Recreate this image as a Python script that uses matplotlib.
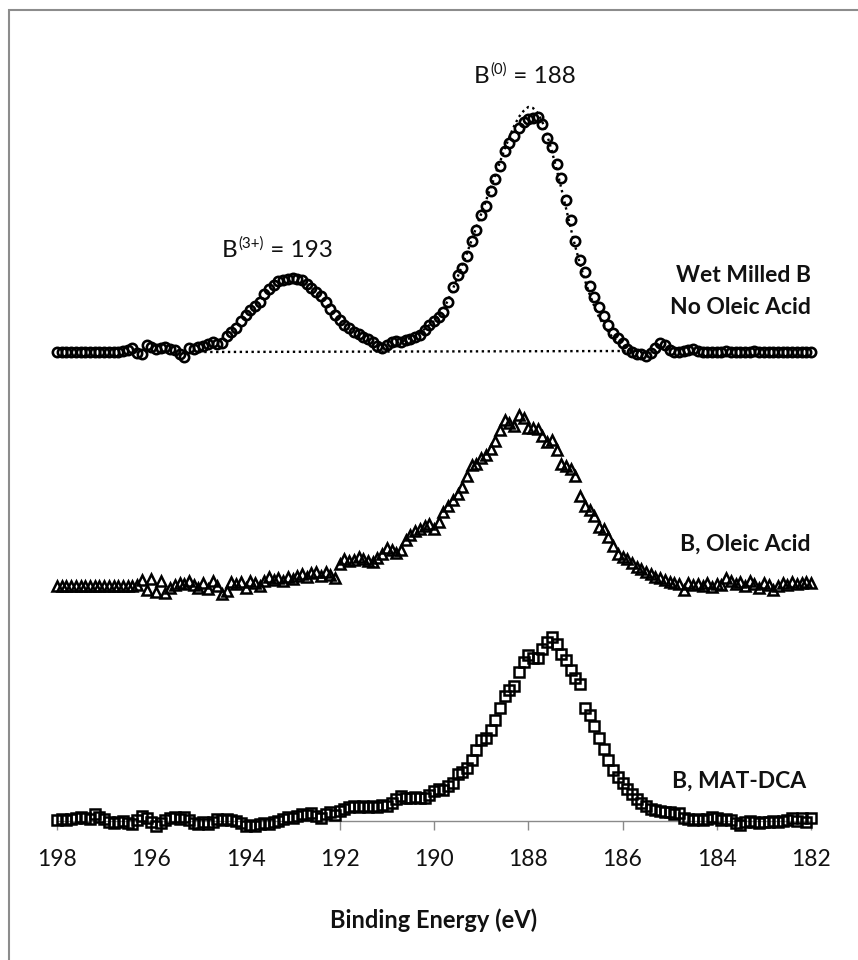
import numpy as np
import matplotlib
matplotlib.use("Agg")
import matplotlib.pyplot as plt
from matplotlib.patches import Rectangle

plt.rcParams['font.family'] = ['Lato', 'DejaVu Sans']
plt.rcParams['mathtext.default'] = 'regular'

# Binding energy grid (eV), 198 -> 182 in 0.1 eV steps
E_START, E_STOP, N_PTS = 198.0, 182.0, 161
energy = np.linspace(E_START, E_STOP, N_PTS)

# Wet milled B, no oleic acid (circles), intensity above own baseline
wet_milled = [
    0, 0, 0, 0, 0, 0, 0, 0, 0, 0,
    0, 0, 0, 0, 1, 2, 4, -1, -2, 7,
    5, 3, 4, 5, 3, 2, -2, -5, 4, 3,
    5, 6, 8, 10, 8, 9, 16, 20, 24, 31,
    37, 42, 46, 50, 58, 63, 67, 71, 72, 73,
    74, 73, 72, 68, 64, 60, 56, 50, 43, 37,
    32, 27, 24, 20, 18, 15, 13, 10, 6, 4,
    7, 10, 11, 10, 12, 13, 15, 17, 22, 27,
    31, 35, 40, 50, 65, 77, 84, 96, 111, 122,
    137, 146, 161, 173, 186, 201, 209, 216, 224, 230,
    233, 234, 235, 228, 214, 205, 188, 174, 152, 132,
    111, 92, 80, 66, 55, 45, 36, 27, 19, 14,
    9, 3, 0, -2, -2, -4, -1, 4, 9, 7,
    2, 0, 0, 1, 2, 3, 1, 0, 0, 0,
    0, 0, 1, 0, 0, 0, 0, 0, 1, 0,
    0, 0, 0, 0, 0, 0, 0, 0, 0, 0, 0,
]

# B, oleic acid (triangles)
oleic = [
    0, 0, 0, 0, 0, 0, 0, 0, 0, 0,
    0, 0, 0, 0, 0, 0, 0, 1, 6, -4,
    7, -6, 5, -7, -2, 1, 3, 2, 5, 1,
    -2, 3, -3, 5, 0, -8, -5, 4, 2, 4,
    -2, 5, 3, 0, 5, 9, 6, 8, 5, 9,
    7, 10, 12, 9, 13, 14, 10, 14, 11, 8,
    22, 27, 25, 26, 29, 27, 25, 24, 28, 32,
    38, 36, 33, 36, 46, 51, 55, 57, 60, 62,
    57, 64, 74, 80, 86, 92, 99, 110, 121, 122,
    128, 131, 137, 145, 156, 166, 163, 160, 171, 168,
    158, 158, 157, 150, 144, 146, 136, 122, 120, 117,
    110, 90, 80, 76, 70, 59, 57, 49, 40, 32,
    29, 27, 23, 19, 17, 14, 12, 9, 8, 6,
    4, 3, 2, -4, 3, 1, 2, 0, 3, -1,
    2, 1, 8, 5, 2, 4, 0, 5, 2, -2,
    3, 1, -4, 0, 3, 1, 4, 2, 3, 4, 3,
]

# B, MAT-DCA (squares)
mat_dca = [
    0, 1, 0, 1, 2, 3, 2, 1, 6, 3,
    1, -2, -3, -2, -1, -3, -4, 0, 4, 2,
    -2, -6, -3, 0, 2, 3, 1, 3, 0, -3,
    -4, -2, -4, -2, 1, 0, 1, 0, -1, -3,
    -6, -5, -6, -4, -3, -4, -2, -1, 1, 3,
    2, 4, 6, 5, 7, 4, 2, 6, 8, 5,
    9, 11, 13, 14, 13, 14, 13, 14, 13, 15,
    14, 17, 21, 24, 22, 22, 23, 22, 22, 25,
    29, 31, 30, 34, 37, 46, 48, 52, 60, 70,
    80, 82, 90, 100, 112, 124, 130, 134, 148, 158,
    165, 162, 162, 171, 178, 183, 176, 166, 160, 150,
    142, 136, 112, 105, 94, 82, 71, 60, 50, 43,
    37, 31, 26, 21, 17, 14, 11, 10, 9, 8,
    8, 6, 7, 2, 1, 0, 1, 0, 1, 3,
    2, 0, 1, 0, -3, -5, -2, -1, -2, -3,
    -2, -2, -1, -2, -1, 0, 2, -1, 2, -2, 2,
]

# Fitted envelope around the B(0) peak (dotted), 191.0 -> 185.6 eV
fit_energy = np.linspace(191.0, 185.6, 55)
fit_b0 = [
    3, 6, 9, 10, 12, 14, 16, 19, 23, 27,
    31, 36, 43, 52, 63, 75, 87, 99, 112, 125,
    138, 151, 164, 177, 190, 203, 215, 226, 235, 241,
    245, 244, 239, 230, 217, 201, 183, 164, 144, 124,
    105, 88, 72, 58, 46, 35, 27, 20, 14, 10,
    6, 4, 2, 1, 0,
]
# Fitted background (dotted)
bg_energy = [195.0, 185.8]
bg_level = [0, 1]

# vertical offsets for stacking
offsets = {"wet": 469, "oleic": 235, "mat": 1}

series_labels = ["Wet Milled B", "No Oleic Acid", "B, Oleic Acid", "B, MAT-DCA"]
xticks = [198, 196, 194, 192, 190, 188, 186, 184, 182]
xlabel = "Binding Energy (eV)"

W, H = 858, 960
fig = plt.figure(figsize=(W / 100, H / 100), dpi=100)
ax = fig.add_axes([57 / W, 1 - 821 / H, (811 - 57) / W, (821 - 20) / H])

mk = dict(linestyle="none", markerfacecolor="none", markeredgecolor="black",
          clip_on=False)
dot = dict(color="black", linewidth=1.7, linestyle=(0, (1, 1.5)))

ax.plot(bg_energy, np.array(bg_level) + offsets["wet"], **dot)
ax.plot(fit_energy, np.array(fit_b0) + offsets["wet"], **dot)
ax.plot(energy, np.array(wet_milled) + offsets["wet"], marker="o",
        markersize=6.7, markeredgewidth=1.9, **mk)
ax.plot(energy, np.array(oleic) + offsets["oleic"], marker="^",
        markersize=7.0, markeredgewidth=1.8, **mk)
ax.plot(energy, np.array(mat_dca) + offsets["mat"], marker="s",
        markersize=6.6, markeredgewidth=1.8, **mk)

ax.set_xlim(198, 182)
ax.set_ylim(0, 801)
ax.set_xticks(xticks)
ax.set_xticklabels([str(t) for t in xticks])
ax.set_yticks([])
for s in ["top", "left", "right"]:
    ax.spines[s].set_visible(False)
ax.spines["bottom"].set_color("#8a8a8a")
ax.spines["bottom"].set_linewidth(1.0)
ax.spines["bottom"].set_zorder(0)
ax.tick_params(axis="x", direction="out", length=6.5, width=1.0, color="#8a8a8a",
               labelsize=16.5, pad=14, labelcolor="#111111")
ax.patch.set_alpha(0)

txt = dict(color="#111111")
lab = dict(ha="right", va="center", fontsize=16.5, fontweight="bold", **txt)
fig.text(811 / W, 1 - 276 / H, series_labels[0], **lab)
fig.text(811 / W, 1 - 307 / H, series_labels[1], **lab)
fig.text(811 / W, 1 - 544 / H, series_labels[2], **lab)
fig.text(806 / W, 1 - 781 / H, series_labels[3], **lab)


def peak_label(x_px, base_px, sup, rest, size=17.5):
    """Draw 'B' + superscript + rest as consecutive text pieces."""
    renderer = fig.canvas.get_renderer()
    t1 = fig.text(x_px / W, 1 - base_px / H, "B", ha="left", va="baseline",
                  fontsize=size, **txt)
    bb = t1.get_window_extent(renderer)
    t2 = fig.text((bb.x1 + 1) / W, 1 - (base_px - 9) / H, sup, ha="left",
                  va="baseline", fontsize=size * 0.62, **txt)
    bb2 = t2.get_window_extent(renderer)
    fig.text(bb2.x1 / W, 1 - base_px / H, rest, ha="left", va="baseline",
             fontsize=size, **txt)


peak_label(474, 83, "(0)", " = 188")
peak_label(222, 257, "(3+)", " = 193")

fig.text(434 / W, 1 - 920 / H, xlabel, ha="center", va="center",
         fontsize=17, fontweight="bold", **txt)

# outer frame
fig.patches.append(Rectangle((8.5 / W, -0.02), 1.05, 1 - 10 / H + 0.02,
                             transform=fig.transFigure, fill=False,
                             edgecolor="#8c8c8c", linewidth=1.5))

fig.savefig("out.png", dpi=100)
